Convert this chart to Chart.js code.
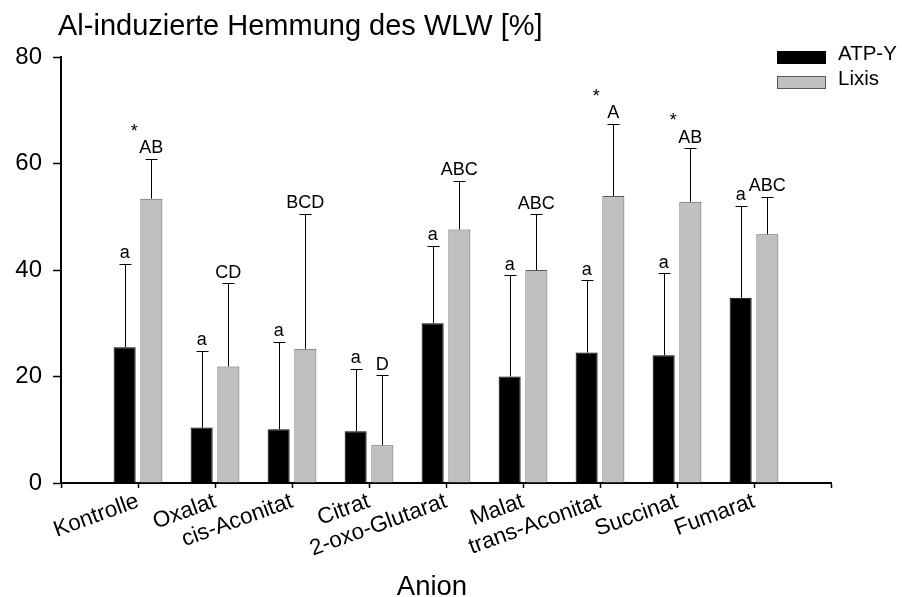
<!DOCTYPE html>
<html lang="de">
<head>
<meta charset="utf-8">
<title>Al-induzierte Hemmung des WLW</title>
<script src="https://cdn.jsdelivr.net/npm/chart.js@4/dist/chart.umd.min.js"></script>
<style>
    html, body { margin: 0; padding: 0; background: #fff; }
    #contenedor { width: 902px; height: 597px; position: relative; }
</style>
</head>
<body>
<div id="contenedor"><canvas id="grafica"></canvas></div>
<script>
const titel = "Al-induzierte Hemmung des WLW [%]";
const achsenTitel = "Anion";

const anionen = ["Kontrolle", "Oxalat", "cis-Aconitat", "Citrat", "2-oxo-Glutarat", "Malat", "trans-Aconitat", "Succinat", "Fumarat"];

const atpY = [25.5, 10.4, 10.1, 9.7, 30.0, 20.0, 24.5, 24.0, 34.8];
const atpYFehler = [15.7, 14.4, 16.4, 11.8, 14.6, 19.0, 13.6, 15.4, 17.3];
const atpYBuchstaben = ["a", "a", "a", "a", "a", "a", "a", "a", "a"];

const lixis = [53.4, 21.9, 25.2, 7.1, 47.6, 40.0, 53.9, 52.8, 46.7];
const lixisFehler = [7.5, 15.6, 25.4, 13.1, 9.2, 10.5, 13.6, 10.1, 7.1];
const lixisBuchstaben = ["AB", "CD", "BCD", "D", "ABC", "ABC", "A", "AB", "ABC"];
const lixisSterne = ["*", "", "", "", "", "", "*", "*", ""];

const yTicks = [0, 20, 40, 60, 80];

const schrift = '"Liberation Sans", Arial, sans-serif';
Chart.defaults.font.family = schrift;
Chart.defaults.color = "#000";

// leere Kategorien an beiden Enden, damit die Achse 0..10 geht
const etiketten = ["", ...anionen, ""];
const mitRand = (werte) => [null, ...werte, null];

const fehlerbalken = {
    id: "fehlerbalken",
    afterDatasetsDraw(chart) {
        const ctx = chart.ctx;
        const skalaY = chart.scales.y;
        ctx.save();
        ctx.strokeStyle = "#000";
        ctx.fillStyle = "#000";
        ctx.lineWidth = 1;
        ctx.textAlign = "center";
        ctx.textBaseline = "alphabetic";
        ctx.font = "18px " + schrift;

        chart.data.datasets.forEach((datensatz, d) => {
            const meta = chart.getDatasetMeta(d);
            meta.data.forEach((balken, i) => {
                const k = i - 1;
                if (k < 0 || k >= anionen.length) return;
                const oben = skalaY.getPixelForValue(datensatz.data[i] + datensatz.fehler[k]);
                const x = Math.round(balken.x) + 0.5;
                const kappe = Math.round(oben) + 0.5;
                ctx.beginPath();
                ctx.moveTo(x, balken.y);
                ctx.lineTo(x, kappe);
                ctx.moveTo(x - 6, kappe);
                ctx.lineTo(x + 6, kappe);
                ctx.stroke();
                ctx.fillText(datensatz.buchstaben[k], balken.x, oben - 5.5);
                if (datensatz.sterne && datensatz.sterne[k]) {
                    ctx.fillText(datensatz.sterne[k], balken.x - 17, oben - 22);
                }
            });
        });
        ctx.restore();
    }
};

const texte = {
    id: "texte",
    afterDraw(chart) {
        const ctx = chart.ctx;
        ctx.save();
        ctx.fillStyle = "#000";
        ctx.textBaseline = "alphabetic";

        ctx.font = "29px " + schrift;
        ctx.textAlign = "left";
        ctx.fillText(titel, 58, 35);

        ctx.font = "27.5px " + schrift;
        ctx.textAlign = "center";
        ctx.fillText(achsenTitel, 432, 595);

        // Legende oben rechts
        chart.data.datasets.forEach((datensatz, d) => {
            const oben = 51 + d * 25;
            ctx.fillStyle = datensatz.backgroundColor;
            ctx.fillRect(777.5, oben + 0.5, 48, 12);
            ctx.strokeStyle = datensatz.borderColor;
            ctx.lineWidth = 1;
            ctx.strokeRect(777.5, oben + 0.5, 48, 12);
            ctx.fillStyle = "#000";
            ctx.font = "20.5px " + schrift;
            ctx.textAlign = "left";
            ctx.textBaseline = "middle";
            ctx.fillText(datensatz.label, 838, oben + 3.5);
        });
        ctx.restore();
    }
};

const ctxGrafica = document.getElementById("grafica");
const grafica = new Chart(ctxGrafica, {
    type: "bar",
    data: {
        labels: etiketten,
        datasets: [
            {
                label: "ATP-Y",
                data: mitRand(atpY),
                fehler: atpYFehler,
                buchstaben: atpYBuchstaben,
                backgroundColor: "#000000",
                borderColor: "#000000",
                borderWidth: 1
            },
            {
                label: "Lixis",
                data: mitRand(lixis),
                fehler: lixisFehler,
                buchstaben: lixisBuchstaben,
                sterne: lixisSterne,
                backgroundColor: "#c0c0c0",
                borderColor: "#5a5a5a",
                borderWidth: 1
            }
        ]
    },
    options: {
        responsive: true,
        maintainAspectRatio: false,
        animation: false,
        categoryPercentage: 0.694,
        barPercentage: 0.824,
        layout: {
            padding: { top: 57, right: 71, bottom: 0, left: 0 }
        },
        plugins: {
            legend: { display: false },
            title: { display: false },
            tooltip: { enabled: false }
        },
        scales: {
            x: {
                offset: false,
                grid: {
                    display: true,
                    drawOnChartArea: false,
                    offset: false,
                    tickLength: 5,
                    tickColor: "#000",
                    tickWidth: 1.5
                },
                border: { display: true, color: "#000", width: 2 },
                ticks: {
                    autoSkip: false,
                    minRotation: 20,
                    maxRotation: 20,
                    padding: 0,
                    color: "#000",
                    font: { size: 22.5 }
                },
                afterFit: (skala) => { skala.height = 114; }
            },
            y: {
                min: 0,
                max: 80,
                grid: {
                    display: true,
                    drawOnChartArea: false,
                    tickLength: 8,
                    tickColor: "#000",
                    tickWidth: 1.5
                },
                border: { display: true, color: "#000", width: 2 },
                ticks: {
                    padding: 11,
                    color: "#000",
                    font: { size: 24 }
                },
                afterBuildTicks: (skala) => { skala.ticks = yTicks.map((v) => ({ value: v })); },
                afterFit: (skala) => { skala.width = 61; }
            }
        }
    },
    plugins: [fehlerbalken, texte]
});
</script>
</body>
</html>
